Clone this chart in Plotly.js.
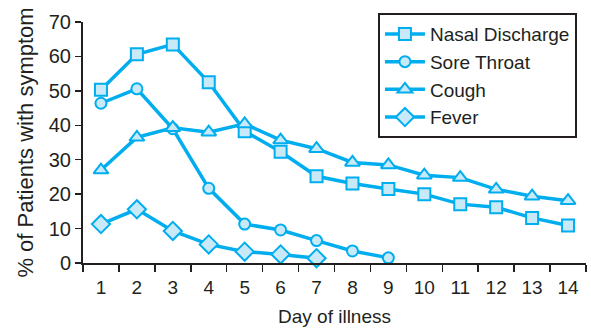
<!DOCTYPE html>
<html>
<head>
<meta charset="utf-8">
<script src="https://cdn.plot.ly/plotly-3.0.1.min.js"></script>
<style>html,body{margin:0;padding:0;background:#fff;}#chart{width:591px;height:329px;}</style>
</head>
<body>
<div id="chart"></div>
<script>
const days = [1,2,3,4,5,6,7,8,9,10,11,12,13,14];
const dayLabels = ["1","2","3","4","5","6","7","8","9","10","11","12","13","14"];
const nasalDischarge = [50.3,60.6,63.5,52.5,38.3,32.3,25.2,23.1,21.5,20.0,17.1,16.2,13.1,10.9];
const soreThroat = [46.4,50.6,39.0,21.7,11.3,9.6,6.5,3.5,1.5];
const cough = [27.0,36.5,39.3,38.0,40.4,35.7,33.2,29.2,28.5,25.5,24.8,21.4,19.4,18.1];
const fever = [11.3,15.6,9.3,5.4,3.3,2.5,1.4];
const seriesNames = ["Nasal Discharge","Sore Throat","Cough","Fever"];
const bandEdges = [0.5,1.5,2.5,3.5,4.5,5.5,6.5,7.5,8.5,9.5,10.5,11.5,12.5,13.5,14.5];

const lineColor = "#00aeef";
const fillColor = "#c8e9f8";
const ink = "#231f20";
const font = "Liberation Sans, Arial, sans-serif";

function tr(name, ys, symbol, size){
  return {
    type:"scatter", mode:"lines+markers", name:name,
    x: days.slice(0, ys.length), y: ys,
    line:{color:lineColor, width:3.5},
    marker:{symbol:symbol, size:size, color:fillColor, line:{color:lineColor, width:2}},
    cliponaxis:false
  };
}
const data = [
  tr(seriesNames[0], nasalDischarge, "square", 12),
  tr(seriesNames[1], soreThroat, "circle", 11),
  tr(seriesNames[2], cough, "triangle-up", 13),
  tr(seriesNames[3], fever, "diamond", 14)
];

const layout = {
  width:591, height:329,
  margin:{l:83, r:5, t:22, b:66},
  paper_bgcolor:"#fff", plot_bgcolor:"#fff",
  font:{family:font, color:ink, size:19},
  showlegend:true,
  legend:{
    x:0.982, xanchor:"right", y:1.037, yanchor:"top",
    bordercolor:ink, borderwidth:2, bgcolor:"#fff",
    font:{family:font, size:19, color:ink},
    itemwidth:40, tracegroupgap:0
  },
  xaxis:{
    range:[0.5,14.5], showgrid:false, zeroline:false,
    showline:true, linecolor:ink, linewidth:2,
    tickmode:"array", tickvals:days, ticktext:dayLabels,
    ticks:"outside", ticklen:6, tickcolor:"rgba(0,0,0,0)",
    tickfont:{family:font, size:19, color:ink},
    minor:{tickmode:"array", tickvals:bandEdges, ticks:"outside", ticklen:7, tickwidth:1.5, tickcolor:ink, showgrid:false},
    title:{text:"Day of illness", font:{family:font, size:19, color:ink}, standoff:13}
  },
  yaxis:{
    range:[0,70], showgrid:false, zeroline:false,
    showline:true, linecolor:ink, linewidth:2,
    tickmode:"array", tickvals:[0,10,20,30,40,50,60,70],
    ticks:"outside", ticklen:6, tickwidth:1.5, tickcolor:ink,
    tickfont:{family:font, size:20, color:ink},
    title:{text:"% of Patients with symptom", font:{family:font, size:22, color:ink}, standoff:9}
  }
};
Plotly.newPlot("chart", data, layout, {displayModeBar:false, staticPlot:true});
</script>
</body>
</html>
